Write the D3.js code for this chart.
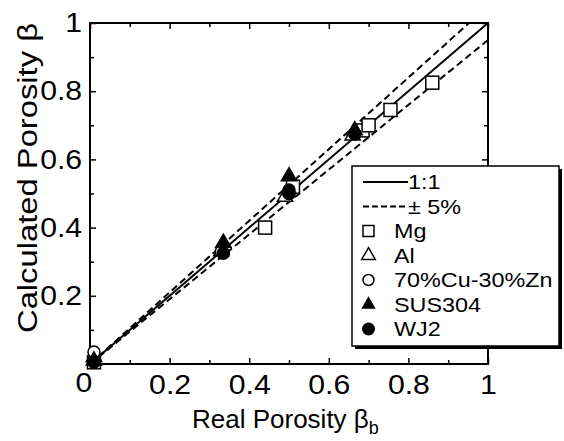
<!DOCTYPE html>
<html><head><meta charset="utf-8">
<script src="https://cdn.jsdelivr.net/npm/d3@7"></script>
<style>
html,body{margin:0;padding:0;background:#fff;}
svg{display:block;font-family:"Liberation Sans",Arial,sans-serif;}
</style></head>
<body><svg id="c" width="564" height="441"></svg>
<script>
// ---- data ----
const xTicks = [0, 0.2, 0.4, 0.6, 0.8, 1];
const yTicks = [0.2, 0.4, 0.6, 0.8, 1];
const minorTicks = [0.1, 0.3, 0.5, 0.7, 0.9];
const tolerance = 0.05;
const mgX = [0.01, 0.44, 0.51, 0.685, 0.70, 0.755, 0.86];
const mgY = [0.005, 0.40, 0.52, 0.685, 0.70, 0.745, 0.825];
const alX = [0.01, 0.33, 0.49, 0.66];
const alY = [0.02, 0.33, 0.49, 0.67];
const cuX = [0.01, 0.33, 0.50, 0.665];
const cuY = [0.035, 0.33, 0.50, 0.675];
const susX = [0.01, 0.335, 0.50, 0.665];
const susY = [0.01, 0.355, 0.55, 0.685];
const wjX = [0.01, 0.335, 0.50, 0.50, 0.665];
const wjY = [0.005, 0.325, 0.51, 0.50, 0.675];
const legendNames = ["1:1", "\u00B1 5%", "Mg", "Al", "70%Cu-30%Zn", "SUS304", "WJ2"];

const svg = d3.select("#c");
const x = d3.scaleLinear().domain([0, 1]).range([90, 488]);
const y = d3.scaleLinear().domain([0, 1]).range([364, 23]);
const FS = 27;
const SX = 1.12;

svg.append("clipPath").attr("id", "clip").append("rect")
  .attr("x", x(0)).attr("y", y(1)).attr("width", x(1) - x(0)).attr("height", y(0) - y(1));

function styleAxis(g) {
  g.select(".domain").remove();
  g.selectAll("line").attr("stroke", "#000").attr("stroke-width", 1.5);
}
function styleText(g) {
  g.selectAll("text").attr("font-size", FS).attr("fill", "#000")
    .attr("font-family", "Liberation Sans, Arial, sans-serif")
    .attr("transform", `scale(${SX},1)`);
}
const fmt = d => d === 0 ? "" : (d === 1 ? "1" : String(d));
svg.append("g").attr("transform", `translate(0,${y(0)})`)
  .call(d3.axisBottom(x).tickValues(xTicks).tickSize(-6).tickFormat(fmt).tickPadding(11))
  .call(styleAxis).call(styleText);
svg.append("g").attr("transform", `translate(0,${y(0)})`)
  .call(d3.axisBottom(x).tickValues(minorTicks).tickSize(-4).tickFormat(""))
  .call(styleAxis);
svg.append("g").attr("transform", `translate(0,${y(1)})`)
  .call(d3.axisTop(x).tickValues(xTicks).tickSize(-6).tickFormat(""))
  .call(styleAxis);
svg.append("g").attr("transform", `translate(0,${y(1)})`)
  .call(d3.axisTop(x).tickValues(minorTicks).tickSize(-4).tickFormat(""))
  .call(styleAxis);
svg.append("g").attr("transform", `translate(${x(0)},0)`)
  .call(d3.axisLeft(y).tickValues(yTicks).tickSize(-6).tickFormat(fmt).tickPadding(7))
  .call(styleAxis).call(styleText);
svg.append("g").attr("transform", `translate(${x(0)},0)`)
  .call(d3.axisLeft(y).tickValues(minorTicks).tickSize(-4).tickFormat(""))
  .call(styleAxis);
svg.append("g").attr("transform", `translate(${x(1)},0)`)
  .call(d3.axisRight(y).tickValues(yTicks).tickSize(-6).tickFormat(""))
  .call(styleAxis);
svg.append("g").attr("transform", `translate(${x(1)},0)`)
  .call(d3.axisRight(y).tickValues(minorTicks).tickSize(-4).tickFormat(""))
  .call(styleAxis);

// origin label
svg.append("text").attr("transform", `translate(${x(0) - 6},${y(0) + 28}) scale(${SX},1)`)
  .attr("text-anchor", "middle").attr("font-size", FS).text("0");

// frame
svg.append("rect").attr("x", x(0)).attr("y", y(1)).attr("width", x(1) - x(0)).attr("height", y(0) - y(1))
  .attr("fill", "none").attr("stroke", "#000").attr("stroke-width", 2);

// reference lines
const lines = svg.append("g").attr("clip-path", "url(#clip)");
lines.append("line").attr("x1", x(0)).attr("y1", y(0)).attr("x2", x(1)).attr("y2", y(1))
  .attr("stroke", "#000").attr("stroke-width", 2);
[1 + tolerance, 1 - tolerance].forEach(k => {
  lines.append("line").attr("x1", x(0)).attr("y1", y(0)).attr("x2", x(1.2)).attr("y2", y(1.2 * k))
    .attr("stroke", "#000").attr("stroke-width", 2).attr("stroke-dasharray", "7,4");
});

// markers
const tri = d3.symbol().type(d3.symbolTriangle).size(100);
function drawSquares(xs, ys, s) {
  svg.append("g").selectAll("rect").data(xs.map((v, i) => [v, ys[i]])).join("rect")
    .attr("x", d => x(d[0]) - s / 2).attr("y", d => y(d[1]) - s / 2).attr("width", s).attr("height", s)
    .attr("fill", "#fff").attr("stroke", "#000").attr("stroke-width", 1.5);
}
function drawTris(xs, ys, fill) {
  svg.append("g").selectAll("path").data(xs.map((v, i) => [v, ys[i]])).join("path")
    .attr("d", tri).attr("transform", d => `translate(${x(d[0])},${y(d[1])})`)
    .attr("fill", fill).attr("stroke", "#000").attr("stroke-width", 1.5);
}
function drawCircles(xs, ys, r, fill) {
  svg.append("g").selectAll("circle").data(xs.map((v, i) => [v, ys[i]])).join("circle")
    .attr("cx", d => x(d[0])).attr("cy", d => y(d[1])).attr("r", r)
    .attr("fill", fill).attr("stroke", "#000").attr("stroke-width", 1.5);
}
drawSquares(mgX, mgY, 13);
drawTris(alX, alY, "#fff");
drawCircles(cuX, cuY, 6, "#fff");
drawTris(susX, susY, "#000");
drawCircles(wjX, wjY, 6, "#000");

// legend
const L = {x: 352, y: 166, w: 207, h: 180};
svg.append("rect").attr("x", L.x + 3).attr("y", L.y + 3).attr("width", L.w).attr("height", L.h).attr("fill", "#000");
svg.append("rect").attr("x", L.x).attr("y", L.y).attr("width", L.w).attr("height", L.h)
  .attr("fill", "#fff").attr("stroke", "#000").attr("stroke-width", 1.5);
const rowY = i => 182 + i * 24.5;
const lg = svg.append("g");
lg.append("line").attr("x1", 363).attr("x2", 408).attr("y1", rowY(0)).attr("y2", rowY(0))
  .attr("stroke", "#000").attr("stroke-width", 2);
lg.append("line").attr("x1", 363).attr("x2", 408).attr("y1", rowY(1)).attr("y2", rowY(1))
  .attr("stroke", "#000").attr("stroke-width", 2).attr("stroke-dasharray", "6,3");
lg.append("rect").attr("x", 363).attr("y", rowY(2) - 5.5).attr("width", 11).attr("height", 11)
  .attr("fill", "#fff").attr("stroke", "#000").attr("stroke-width", 1.5);
lg.append("path").attr("d", d3.symbol().type(d3.symbolTriangle).size(80)).attr("transform", `translate(368.5,${rowY(3)})`)
  .attr("fill", "#fff").attr("stroke", "#000").attr("stroke-width", 1.5);
lg.append("circle").attr("cx", 368.5).attr("cy", rowY(4)).attr("r", 5.5)
  .attr("fill", "#fff").attr("stroke", "#000").attr("stroke-width", 1.5);
lg.append("path").attr("d", d3.symbol().type(d3.symbolTriangle).size(90)).attr("transform", `translate(368.5,${rowY(5)})`)
  .attr("fill", "#000");
lg.append("circle").attr("cx", 368.5).attr("cy", rowY(6)).attr("r", 6.5).attr("fill", "#000");
legendNames.forEach((n, i) => {
  lg.append("text").attr("transform", `translate(${i < 2 ? 408 : 394},${rowY(i)}) scale(1.17,1)`)
    .attr("dy", "0.36em").attr("font-size", 20).text(n);
});

// axis titles
svg.append("text").attr("x", 192).attr("y", 428)
  .attr("font-size", 26)
  .html('Real Porosity \u03B2<tspan font-size="18" dy="6">b</tspan>');
svg.append("text").attr("transform", `translate(37,178) rotate(-90)`)
  .attr("text-anchor", "middle").attr("font-size", 27)
  .attr("textLength", 310).attr("lengthAdjust", "spacingAndGlyphs")
  .text("Calculated Porosity \u03B2");
</script></body></html>
